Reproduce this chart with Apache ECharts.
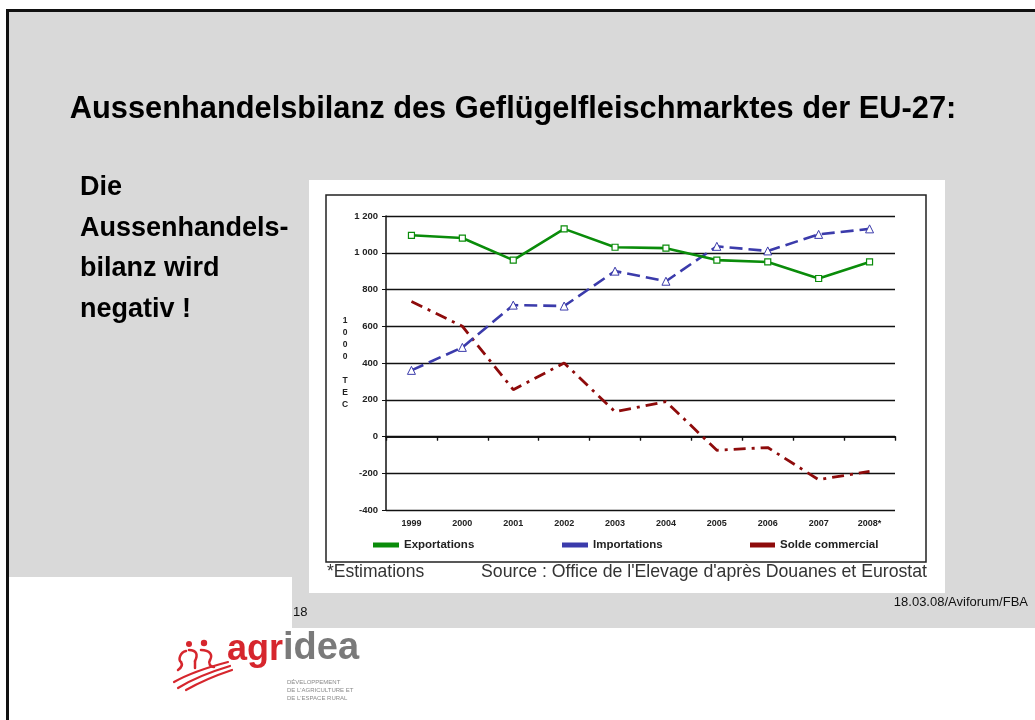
<!DOCTYPE html>
<html>
<head>
<meta charset="utf-8">
<script src="https://cdn.jsdelivr.net/npm/echarts@6/dist/echarts.min.js"></script>
<style>
html,body{margin:0;padding:0;background:#fff;}
#chart{width:1035px;height:720px;}
</style>
</head>
<body>
<div id="chart"></div>
<script>
const categories = ['1999','2000','2001','2002','2003','2004','2005','2006','2007','2008*'];
const exportations = [1095,1080,960,1130,1030,1025,960,950,860,950];
const importations = [360,485,715,710,900,845,1035,1010,1100,1130];
const solde = [735,600,255,400,135,190,-75,-60,-235,-190];
const yMin = -400, yMax = 1200, yStep = 200;

const titleText = 'Aussenhandelsbilanz des Geflügelfleischmarktes der EU-27:';
const sideLines = ['Die','Aussenhandels-','bilanz wird','negativ !'];
const footLeft = '*Estimations';
const footSource = "Source : Office de l'Elevage d'après Douanes et Eurostat";

const GREEN = '#0a8c0a', BLUE = '#3b3bab', RED = '#8e0b0b', GREY = '#d9d9d9', LOGO = '#d6262d';
const FONT = 'Liberation Sans, Arial, sans-serif';

function fmtY(v){
  const s = String(Math.abs(v));
  const t = s.length > 3 ? s.slice(0, s.length-3) + ' ' + s.slice(-3) : s;
  return (v < 0 ? '-' : '') + t;
}

const chart = echarts.init(document.getElementById('chart'), null, {renderer:'canvas'});

function curve(x1,y1,c1x,c1y,c2x,c2y,x2,y2,w){
  return {type:'bezierCurve', z:5, shape:{x1:x1,y1:y1,cpx1:c1x,cpy1:c1y,cpx2:c2x,cpy2:c2y,x2:x2,y2:y2},
          style:{stroke:LOGO, lineWidth:w, fill:null, lineCap:'round'}};
}

const graphics = [
  {type:'rect', z:-20, shape:{x:0,y:0,width:1035,height:720}, style:{fill:'#ffffff'}},
  {type:'rect', z:-19, shape:{x:8,y:11,width:1027,height:617}, style:{fill:GREY}},
  {type:'rect', z:-18, shape:{x:8,y:577,width:284,height:143}, style:{fill:'#ffffff'}},
  {type:'rect', z:-17, shape:{x:6,y:9,width:1029,height:3}, style:{fill:'#111'}},
  {type:'rect', z:-17, shape:{x:6,y:9,width:3,height:711}, style:{fill:'#111'}},
  {type:'rect', z:-16, shape:{x:309,y:180,width:636,height:413}, style:{fill:'#ffffff'}},
  {type:'rect', z:-15, shape:{x:326,y:195,width:600,height:367}, style:{fill:null, stroke:'#222', lineWidth:1.5}},
  {type:'text', z:5, x:513, y:110, style:{text:titleText, font:'bold 30.8px '+FONT, fill:'#000', align:'center', verticalAlign:'middle'}},
  {type:'text', z:5, x:327, y:572, style:{text:footLeft, font:'17.5px '+FONT, fill:'#333', verticalAlign:'middle'}},
  {type:'text', z:5, x:927, y:572, style:{text:footSource, font:'17.7px '+FONT, fill:'#333', align:'right', verticalAlign:'middle'}},
  {type:'text', z:5, x:293, y:612, style:{text:'18', font:'13px '+FONT, fill:'#111', verticalAlign:'middle'}},
  {type:'text', z:5, x:1028, y:602, style:{text:'18.03.08/Aviforum/FBA', font:'13px '+FONT, fill:'#111', align:'right', verticalAlign:'middle'}},
  {type:'text', z:5, x:227, y:668, style:{text:'agr', font:'bold 36px '+FONT, fill:LOGO, verticalAlign:'bottom'}},
  {type:'text', z:5, x:283, y:668, style:{text:'idea', font:'bold 38px '+FONT, fill:'#7a7a7a', verticalAlign:'bottom'}},
  {type:'text', z:5, x:287, y:678, style:{text:'DÉVELOPPEMENT\nDE L\'AGRICULTURE ET\nDE L\'ESPACE RURAL', font:'6px '+FONT, lineHeight:8, fill:'#8a8a8a', verticalAlign:'top'}},
  {type:'circle', z:5, shape:{cx:189,cy:644,r:3}, style:{fill:LOGO}},
  {type:'circle', z:5, shape:{cx:204,cy:643,r:3.2}, style:{fill:LOGO}},
  curve(186,651, 180,652, 178,660, 181,662, 2.5),
  curve(181,662, 183,665, 181,668, 178,670, 2.5),
  curve(189,650, 197,650, 198,655, 195,661, 2.5),
  curve(195,661, 195,664, 195,666, 195,668, 2.5),
  curve(201,650, 210,650, 213,655, 210,660, 2.5),
  curve(210,660, 208,663, 210,667, 214,667, 2.5),
  curve(174,682, 190,673, 205,668, 228,662, 2.2),
  curve(178,688, 194,678, 210,672, 230,666, 2.2),
  curve(186,690, 200,682, 214,676, 232,670, 2.2)
];
sideLines.forEach((t,i)=>{
  graphics.push({type:'text', z:5, x:80, y:188 + i*40.5, style:{text:t, font:'bold 27px '+FONT, fill:'#000', verticalAlign:'middle'}});
});

const axisLbl = {fontFamily:FONT, fontWeight:'bold', fontSize:9, color:'#222'};
const legTxt = {fontFamily:FONT, fontWeight:'bold', fontSize:11.5, color:'#222'};

function legend(left, w, name, color){
  return {left:left, top:539, padding:0, itemWidth:w, itemHeight:5, icon:'rect', data:[name],
          itemStyle:{color:color, borderWidth:0}, textStyle:legTxt, itemGap:0};
}

const option = {
  animation:false,
  backgroundColor:'transparent',
  graphic: graphics,
  grid:{left:386, right:140, top:216, bottom:210, containLabel:false},
  legend:[
    legend(373, 26, 'Exportations', GREEN),
    legend(562, 26, 'Importations', BLUE),
    legend(750, 25, 'Solde commercial', RED)
  ],
  xAxis:[
    {type:'category', data:categories, boundaryGap:true,
     axisLine:{onZero:true, lineStyle:{color:'#111', width:1.5}},
     axisTick:{show:true, length:4, lineStyle:{color:'#111', width:1.2}},
     axisLabel:{show:false}, splitLine:{show:false}},
    {type:'category', data:categories, boundaryGap:true, position:'bottom',
     axisLine:{show:false, onZero:false}, axisTick:{show:false},
     axisLabel:{...axisLbl, margin:9}, splitLine:{show:false}},
    {type:'category', data:categories, boundaryGap:true,
     axisLine:{onZero:true, onZeroAxisIndex:1, lineStyle:{color:'#111', width:1.5}},
     axisTick:{show:true, inside:true, length:4, lineStyle:{color:'#111', width:1.2}},
     axisLabel:{show:false}, splitLine:{show:false}}
  ],
  yAxis:[
    {type:'value', min:yMin, max:yMax, interval:yStep,
     name:'1\n0\n0\n0\n\nT\nE\nC', nameLocation:'middle', nameRotate:0, nameGap:41,
     nameTextStyle:{fontFamily:FONT, fontWeight:'bold', fontSize:8.5, color:'#222', lineHeight:12, align:'center', verticalAlign:'middle'},
     axisLine:{show:true, lineStyle:{color:'#111', width:1.5}},
     axisTick:{show:true, length:4, lineStyle:{color:'#111'}},
     axisLabel:{...axisLbl, fontSize:9.5, margin:8, formatter:fmtY},
     splitLine:{show:true, lineStyle:{color:'#111', width:1.4}}},
    {type:'value', min:yMin, max:yMax, interval:yStep, show:false, splitLine:{show:false}}
  ],
  series:[
    {name:'Solde commercial', type:'line', data:solde, xAxisIndex:0, yAxisIndex:0,
     showSymbol:false, symbol:'none', color:RED,
     lineStyle:{color:RED, width:2.8, type:[12,6,3,6]}, z:3},
    {name:'Importations', type:'line', data:importations, xAxisIndex:0, yAxisIndex:0,
     symbol:'triangle', symbolSize:8, color:BLUE,
     itemStyle:{color:'#ffffff', borderColor:BLUE, borderWidth:1},
     lineStyle:{color:BLUE, width:2.6, type:[13,6]}, z:4},
    {name:'Exportations', type:'line', data:exportations, xAxisIndex:0, yAxisIndex:0,
     symbol:'rect', symbolSize:6, color:GREEN,
     itemStyle:{color:'#ffffff', borderColor:GREEN, borderWidth:1.2},
     lineStyle:{color:GREEN, width:2.6}, z:5}
  ]
};
chart.setOption(option);
</script>
</body>
</html>
